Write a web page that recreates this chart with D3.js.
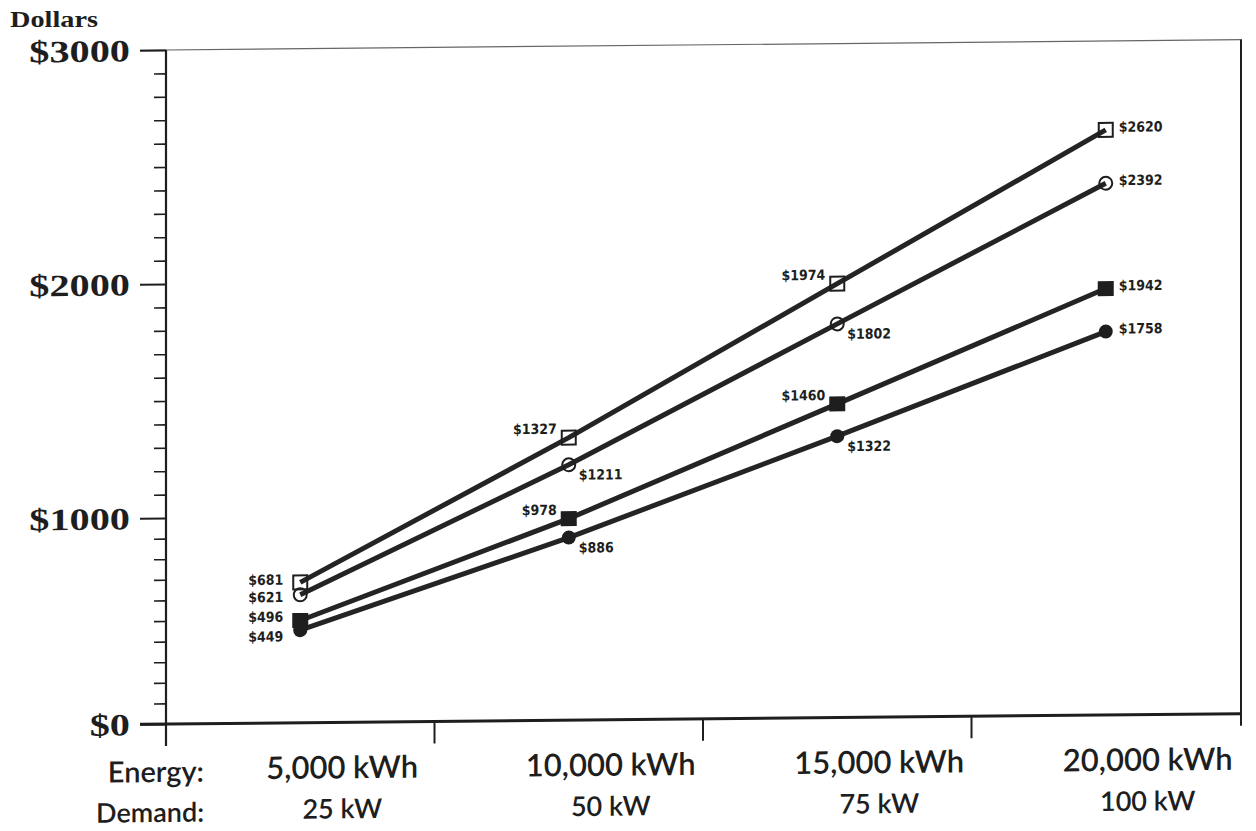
<!DOCTYPE html>
<html>
<head>
<meta charset="utf-8">
<script src="https://cdn.jsdelivr.net/npm/d3@7"></script>
<style>
  html, body { margin: 0; padding: 0; background: #ffffff; }
  svg { display: block; }
</style>
</head>
<body>
<svg id="chart" width="1256" height="831"></svg>
<script>
// ---------------- data ----------------
const energyLabels = ["5,000 kWh", "10,000 kWh", "15,000 kWh", "20,000 kWh"];
const demandLabels = ["25 kW", "50 kW", "75 kW", "100 kW"];
const seriesA = [681, 1327, 1974, 2620];   // open squares
const seriesB = [621, 1211, 1802, 2392];   // open circles
const seriesC = [496, 978, 1460, 1942];    // filled squares
const seriesD = [449, 886, 1322, 1758];    // filled circles
const yMajorTicks = [0, 1000, 2000, 3000];
const yTickLabels = ["$0", "$1000", "$2000", "$3000"];
const yAxisTitle = "Dollars";
const rowTitles = ["Energy:", "Demand:"];

// ---------------- styling / layout ----------------
const ink = "#1e1e1e";
const svg = d3.select("#chart");
const X0 = 166, X1 = 1240;

const x = d3.scaleBand().domain(energyLabels).range([X0, X1]).padding(0);
// the original chart's vertical scale is polylinear ($0-$1000 segment compressed)
const y = d3.scaleLinear().domain([0, 1000, 3000]).range([724, 518, 50]);

const series = [
  { values: seriesA, marker: "openSquare", place: "upLeft", firstDy: -3 },
  { values: seriesB, marker: "openCircle", place: "downRight", firstDy: 2 },
  { values: seriesC, marker: "filledSquare", place: "upLeft", firstDy: -4 },
  { values: seriesD, marker: "filledCircle", place: "downRight", firstDy: 6 }
];

// axis title
svg.append("text")
  .attr("x", 10).attr("y", 27)
  .attr("font-family", "'Liberation Serif', 'DejaVu Serif', serif")
  .attr("font-weight", "bold").attr("font-size", 23)
  .attr("fill", ink)
  .attr("textLength", 88).attr("lengthAdjust", "spacingAndGlyphs")
  .text(yAxisTitle);

// scanned page is slightly skewed
const g = svg.append("g")
  .attr("transform", `translate(${X0},0) skewY(-0.55) translate(${-X0},0)`);

// frame: top and right
g.append("line")
  .attr("x1", X0 - 26).attr("x2", X1 + 2)
  .attr("y1", y(3000)).attr("y2", y(3000))
  .attr("stroke", "#666").attr("stroke-width", 1.2);
g.append("line")
  .attr("x1", X1 + 1).attr("x2", X1 + 1)
  .attr("y1", y(3000)).attr("y2", y(0) + 12)
  .attr("stroke", ink).attr("stroke-width", 2);

// y axis: minor ticks
const yMinor = d3.range(0, 3001, 100).filter(v => !yMajorTicks.includes(v));
g.append("g")
  .attr("transform", `translate(${X0},0)`)
  .call(d3.axisLeft(y).tickValues(yMinor).tickSize(12).tickFormat(""))
  .call(a => a.select(".domain").remove())
  .call(a => a.selectAll("line").attr("stroke", ink).attr("stroke-width", 1.6));

// y axis: major ticks and labels
const yAxisG = g.append("g")
  .attr("transform", `translate(${X0},0)`)
  .call(d3.axisLeft(y).tickValues(yMajorTicks).tickSize(26).tickPadding(10)
        .tickFormat((d, i) => yTickLabels[i]));
yAxisG.select(".domain").attr("stroke", ink).attr("stroke-width", 2.2)
  .attr("d", `M0,${y(3000)}V${y(0) + 22}`);
yAxisG.selectAll(".tick line").attr("stroke", ink).attr("stroke-width", 2);
yAxisG.selectAll(".tick text")
  .attr("font-family", "'Liberation Serif', 'DejaVu Serif', serif")
  .attr("font-weight", "bold").attr("font-size", 31)
  .attr("fill", ink)
  .attr("dy", "0.34em")
  .each(function () {
    const t = d3.select(this);
    const len = this.getComputedTextLength();
    t.attr("textLength", len * 1.3).attr("lengthAdjust", "spacingAndGlyphs");
  });

// x axis
const xAxisG = g.append("g");
xAxisG.append("line")
  .attr("x1", X0 - 26).attr("x2", X1 + 1)
  .attr("y1", y(0)).attr("y2", y(0))
  .attr("stroke", ink).attr("stroke-width", 3);
xAxisG.selectAll("line.xt")
  .data(energyLabels.slice(1))
  .join("line").attr("class", "xt")
  .attr("x1", d => x(d)).attr("x2", d => x(d))
  .attr("y1", y(0)).attr("y2", y(0) + 22)
  .attr("stroke", ink).attr("stroke-width", 2);

const labelOffset = 42;
const xFont = "Lato, 'Open Sans', 'DejaVu Sans', sans-serif";
g.selectAll("text.energy")
  .data(energyLabels)
  .join("text").attr("class", "energy")
  .attr("x", d => x(d) + x.bandwidth() / 2 + labelOffset)
  .attr("y", 780)
  .attr("text-anchor", "middle")
  .attr("font-family", xFont).attr("font-weight", 600).attr("font-size", 31)
  .attr("fill", ink)
  .text(d => d);
g.selectAll("text.demand")
  .data(demandLabels)
  .join("text").attr("class", "demand")
  .attr("x", (d, i) => x(energyLabels[i]) + x.bandwidth() / 2 + labelOffset)
  .attr("y", 820)
  .attr("text-anchor", "middle")
  .attr("font-family", xFont).attr("font-weight", 600).attr("font-size", 27)
  .attr("fill", ink)
  .text(d => d);
g.selectAll("text.rowtitle")
  .data(rowTitles)
  .join("text").attr("class", "rowtitle")
  .attr("x", 204)
  .attr("y", (d, i) => i === 0 ? 782 : 822)
  .attr("text-anchor", "end")
  .attr("font-family", xFont).attr("font-weight", 600)
  .attr("font-size", (d, i) => i === 0 ? 29 : 27)
  .attr("fill", ink)
  .text(d => d);

// lines
const cx = i => x(energyLabels[i]) + x.bandwidth() / 2;
const line = d3.line().x((d, i) => cx(i)).y(d => y(d));
g.selectAll("path.series")
  .data(series)
  .join("path").attr("class", "series")
  .attr("d", s => line(s.values))
  .attr("fill", "none")
  .attr("stroke", "#242424")
  .attr("stroke-width", 5)
  .attr("stroke-linejoin", "round");

// markers
series.forEach(s => {
  const mg = g.append("g");
  s.values.forEach((v, i) => {
    const px = cx(i), py = y(v);
    if (s.marker === "openSquare") {
      mg.append("rect").attr("x", px - 7).attr("y", py - 7).attr("width", 14).attr("height", 14)
        .attr("fill", "none").attr("stroke", ink).attr("stroke-width", 2);
    } else if (s.marker === "filledSquare") {
      mg.append("rect").attr("x", px - 8).attr("y", py - 7.5).attr("width", 16).attr("height", 15)
        .attr("fill", ink);
    } else if (s.marker === "openCircle") {
      mg.append("circle").attr("cx", px).attr("cy", py).attr("r", 6.5)
        .attr("fill", "none").attr("stroke", ink).attr("stroke-width", 2);
    } else {
      mg.append("circle").attr("cx", px).attr("cy", py).attr("r", 7)
        .attr("fill", ink);
    }
  });
});

// value labels
const labFont = "'DejaVu Sans Condensed', 'DejaVu Sans', sans-serif";
series.forEach(s => {
  s.values.forEach((v, i) => {
    const px = cx(i), py = y(v);
    let tx, ty, anchor;
    if (i === 0) { tx = px - 17; ty = py + s.firstDy; anchor = "end"; }
    else if (i === s.values.length - 1) { tx = px + 13; ty = py - 3; anchor = "start"; }
    else if (s.place === "upLeft") { tx = px - 12; ty = py - 9; anchor = "end"; }
    else { tx = px + 10; ty = py + 10; anchor = "start"; }
    g.append("text")
      .attr("x", tx).attr("y", ty).attr("dy", "0.36em")
      .attr("text-anchor", anchor)
      .attr("font-family", labFont).attr("font-stretch", "condensed")
      .attr("font-weight", "bold").attr("font-size", 14)
      .attr("fill", ink)
      .text("$" + v);
  });
});
</script>
</body>
</html>
